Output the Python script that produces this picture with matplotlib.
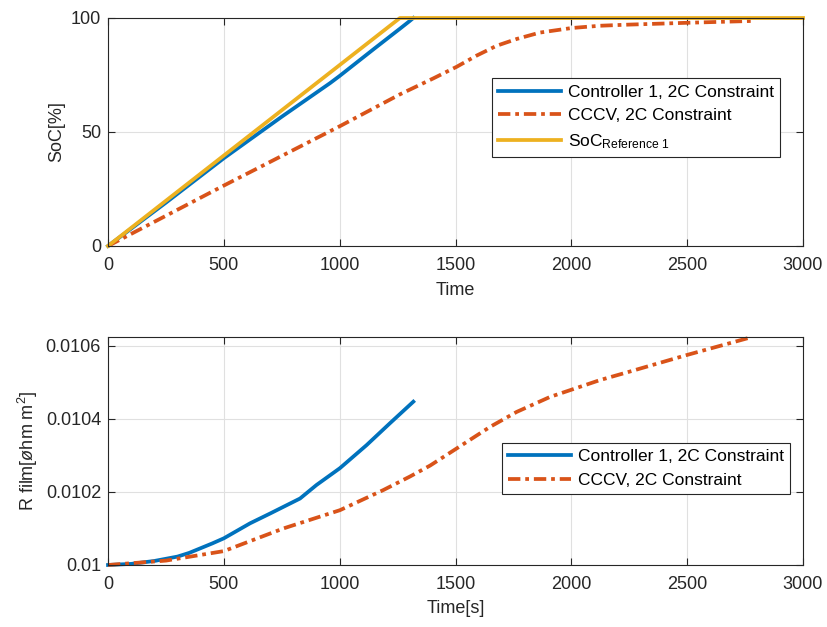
import numpy as np
import matplotlib
matplotlib.use('Agg')
import matplotlib.pyplot as plt

plt.rcParams['font.family'] = ['Liberation Sans', 'DejaVu Sans']
plt.rcParams['mathtext.fontset'] = 'custom'
plt.rcParams['mathtext.rm'] = 'Liberation Sans'
plt.rcParams['mathtext.it'] = 'Liberation Sans:italic'

BLUE = '#0072BD'
ORANGE = '#D95319'
YELLOW = '#EDB120'
DARK = '#262626'

# SoC, controller 1
t_ctrl_soc = [0, 250, 500, 750, 958, 1000, 1150, 1260, 1300, 1318]
soc_ctrl = [0, 19.0, 38.5, 56.7, 71.4, 74.6, 86.6, 95.3, 98.5, 100]

# SoC, CCCV
t_cccv_soc = [0, 500, 1000, 1260, 1404, 1505, 1591, 1677, 1764, 1864, 2001, 2123, 2250, 2500, 2780]
soc_cccv = [0, 26.5, 52.5, 66.5, 73.5, 78.6, 83.5, 87.8, 90.8, 93.6, 95.6, 96.6, 97.1, 97.9, 98.7]

# SoC reference
t_ref = [0, 1260, 3000]
soc_ref = [0, 100, 100]

# R film, controller 1
t_ctrl_r = [0, 100, 200, 300, 350, 400, 450, 500, 613, 700, 829, 900, 1001, 1116, 1217, 1318]
r_ctrl = [0.010000, 0.010003, 0.010011, 0.010023, 0.010033, 0.010046, 0.010059, 0.010073,
          0.010114, 0.010141, 0.010182, 0.010219, 0.010265, 0.010328, 0.010388, 0.010447]

# R film, CCCV
t_cccv_r = [0, 250, 500, 757, 1001, 1188, 1303, 1390, 1505, 1649, 1764, 1908, 2123, 2250, 2500, 2780]
r_cccv = [0.010000, 0.010012, 0.010038, 0.010100, 0.010150, 0.010205, 0.010242, 0.010272,
          0.010319, 0.010378, 0.010419, 0.010460, 0.010506, 0.010529, 0.010575, 0.010624]

dashdot = (0, (3.3, 1.3, 1.0, 1.3))
lw = 2.7
fs = 13


def style_axes(ax):
    ax.grid(True, color='#e0e0e0', linewidth=0.8)
    ax.set_axisbelow(True)
    ax.tick_params(direction='in', length=5, width=0.8, colors=DARK,
                   labelsize=fs, top=True, right=True)
    ax.tick_params(axis='x', pad=8)
    ax.tick_params(axis='y', pad=5)
    for s in ax.spines.values():
        s.set_color(DARK)
        s.set_linewidth(0.8)


def add_legend(ax, anchor):
    leg = ax.legend(loc='upper left', bbox_to_anchor=anchor, fontsize=12.5,
                    fancybox=False, framealpha=1, edgecolor=DARK, handlelength=3.6,
                    borderpad=0.35, labelspacing=0.5, handletextpad=0.4,
                    borderaxespad=0)
    leg.get_frame().set_linewidth(0.8)
    return leg


fig = plt.figure(figsize=(8.27, 6.27), dpi=100)
ax1 = fig.add_axes([0.1306, 0.6077, 0.8404, 0.3636])
ax2 = fig.add_axes([0.1306, 0.0989, 0.8404, 0.3636])

ax1.plot(t_ctrl_soc, soc_ctrl, color=BLUE, lw=lw, clip_on=False,
         label='Controller 1, 2C Constraint')
ax1.plot(t_cccv_soc, soc_cccv, color=ORANGE, lw=lw, linestyle=dashdot, clip_on=False,
         label='CCCV, 2C Constraint')
ax1.plot(t_ref, soc_ref, color=YELLOW, lw=lw, clip_on=False,
         label=r'SoC$_{\mathrm{Reference\ 1}}$')
ax1.set_xlim(0, 3000)
ax1.set_ylim(0, 100)
ax1.set_xticks([0, 500, 1000, 1500, 2000, 2500, 3000])
ax1.set_yticks([0, 50, 100])
ax1.set_xlabel('Time', fontsize=fs, color=DARK, labelpad=6)
ax1.set_ylabel('SoC[%]', fontsize=fs, color=DARK)
style_axes(ax1)
add_legend(ax1, (0.5525, 0.735))

ax2.plot(t_ctrl_r, r_ctrl, color=BLUE, lw=lw, clip_on=False,
         label='Controller 1, 2C Constraint')
ax2.plot(t_cccv_r, r_cccv, color=ORANGE, lw=lw, linestyle=dashdot, clip_on=False,
         label='CCCV, 2C Constraint')
ax2.set_xlim(0, 3000)
ax2.set_ylim(0.01, 0.010624)
ax2.set_xticks([0, 500, 1000, 1500, 2000, 2500, 3000])
ax2.set_yticks([0.01, 0.0102, 0.0104, 0.0106])
ax2.set_yticklabels(['0.01', '0.0102', '0.0104', '0.0106'])
ax2.set_xlabel('Time[s]', fontsize=fs, color=DARK, labelpad=5)
ax2.set_ylabel(r'R film[$\o$hm m$^2$]', fontsize=fs, color=DARK)
style_axes(ax2)
add_legend(ax2, (0.567, 0.537))

fig.savefig('out.png', dpi=100)
